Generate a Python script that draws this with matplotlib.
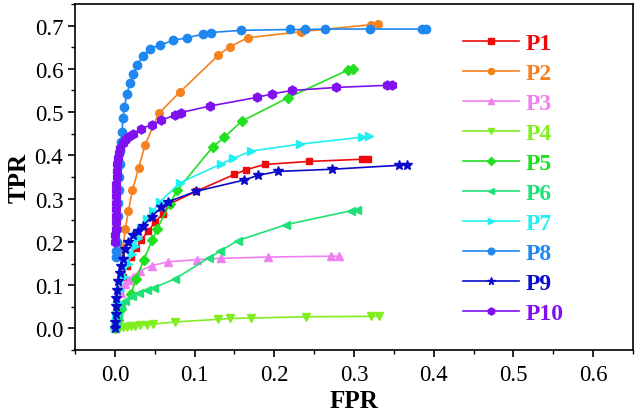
import matplotlib
matplotlib.use("Agg")
import matplotlib.pyplot as plt
from matplotlib.ticker import MultipleLocator

plt.rcParams['font.family'] = ['Liberation Serif', 'DejaVu Serif']

labels = ["P1", "P2", "P3", "P4", "P5", "P6", "P7", "P8", "P9", "P10"]
colors = ["#EE0A0A", "#F5821F", "#F080F0", "#80EE20", "#20E020",
          "#20E078", "#20F0F0", "#1E88F0", "#0A0ACC", "#8010F0"]
markers = ["s", "o", "^", "v", "D", "<", ">", "o", "*", "h"]

p1_x = [0.000, 0.003, 0.006, 0.010, 0.015, 0.020, 0.027, 0.033, 0.042, 0.050, 0.060, 0.069, 0.102, 0.150, 0.165, 0.188, 0.243, 0.310, 0.317]
p1_y = [0.000, 0.050, 0.090, 0.120, 0.145, 0.165, 0.185, 0.205, 0.225, 0.245, 0.265, 0.288, 0.317, 0.356, 0.367, 0.379, 0.386, 0.391, 0.391]

p2_x = [0.007, 0.010, 0.013, 0.017, 0.022, 0.030, 0.038, 0.055, 0.082, 0.130, 0.144, 0.167, 0.234, 0.321, 0.330]
p2_y = [0.175, 0.186, 0.229, 0.272, 0.319, 0.372, 0.425, 0.497, 0.547, 0.632, 0.651, 0.672, 0.686, 0.702, 0.703]

p3_x = [0.000, 0.002, 0.004, 0.008, 0.0125, 0.018, 0.023, 0.031, 0.046, 0.067, 0.103, 0.133, 0.192, 0.271, 0.281]
p3_y = [0.000, 0.025, 0.052, 0.083, 0.102, 0.112, 0.120, 0.133, 0.145, 0.154, 0.159, 0.162, 0.165, 0.167, 0.167]

p4_x = [0.000, 0.005, 0.010, 0.015, 0.020, 0.025, 0.031, 0.040, 0.048, 0.076, 0.129, 0.145, 0.171, 0.240, 0.321, 0.331]
p4_y = [0.000, 0.001, 0.003, 0.004, 0.005, 0.006, 0.007, 0.008, 0.010, 0.015, 0.021, 0.023, 0.024, 0.027, 0.028, 0.028]

p5_x = [0.000, 0.004, 0.008, 0.020, 0.027, 0.036, 0.047, 0.053, 0.069, 0.078, 0.123, 0.1375, 0.159, 0.217, 0.292, 0.299]
p5_y = [0.000, 0.020, 0.044, 0.079, 0.115, 0.158, 0.205, 0.230, 0.288, 0.319, 0.420, 0.442, 0.479, 0.533, 0.597, 0.600]

p6_x = [0.000, 0.002, 0.004, 0.008, 0.0125, 0.021, 0.030, 0.040, 0.049, 0.076, 0.1175, 0.1325, 0.154, 0.215, 0.296, 0.304]
p6_y = [0.000, 0.015, 0.032, 0.052, 0.064, 0.075, 0.082, 0.089, 0.094, 0.115, 0.163, 0.179, 0.203, 0.240, 0.272, 0.273]

p7_x = [0.000, 0.002, 0.004, 0.007, 0.011, 0.016, 0.021, 0.025, 0.029, 0.033, 0.040, 0.048, 0.056, 0.082, 0.133, 0.148, 0.171, 0.232, 0.310, 0.319]
p7_y = [0.000, 0.030, 0.060, 0.090, 0.120, 0.150, 0.172, 0.191, 0.210, 0.233, 0.252, 0.272, 0.292, 0.337, 0.380, 0.393, 0.410, 0.426, 0.442, 0.444]

p8_x = [0.002, 0.002, 0.003, 0.003, 0.004, 0.004, 0.005, 0.005, 0.006, 0.007, 0.008, 0.009, 0.010, 0.012, 0.015, 0.019, 0.023, 0.028, 0.035, 0.044, 0.057, 0.073, 0.091, 0.110, 0.120, 0.158, 0.220, 0.239, 0.264, 0.320, 0.385, 0.391]
p8_y = [0.165, 0.180, 0.200, 0.230, 0.260, 0.290, 0.320, 0.350, 0.380, 0.410, 0.430, 0.454, 0.487, 0.512, 0.541, 0.568, 0.587, 0.609, 0.630, 0.647, 0.655, 0.666, 0.672, 0.680, 0.684, 0.689, 0.691, 0.691, 0.692, 0.692, 0.692, 0.692]

p9_x = [0.000, 0.000, 0.001, 0.001, 0.002, 0.003, 0.004, 0.006, 0.008, 0.010, 0.0125, 0.017, 0.023, 0.029, 0.035, 0.046, 0.058, 0.067, 0.102, 0.162, 0.180, 0.205, 0.273, 0.356, 0.366]
p9_y = [0.000, 0.014, 0.033, 0.052, 0.070, 0.090, 0.110, 0.129, 0.145, 0.160, 0.183, 0.199, 0.215, 0.226, 0.236, 0.258, 0.280, 0.293, 0.317, 0.343, 0.354, 0.363, 0.368, 0.377, 0.378]

p10_x = [0.000, 0.000, 0.001, 0.001, 0.001, 0.001, 0.002, 0.002, 0.002, 0.002, 0.003, 0.003, 0.003, 0.004, 0.005, 0.007, 0.010, 0.013, 0.017, 0.023, 0.033, 0.046, 0.058, 0.075, 0.083, 0.119, 0.178, 0.197, 0.222, 0.277, 0.342, 0.348]
p10_y = [0.200, 0.215, 0.230, 0.245, 0.260, 0.275, 0.290, 0.305, 0.320, 0.335, 0.350, 0.365, 0.380, 0.395, 0.405, 0.418, 0.428, 0.436, 0.442, 0.450, 0.462, 0.471, 0.481, 0.493, 0.499, 0.514, 0.534, 0.542, 0.550, 0.557, 0.562, 0.562]

xs = [p1_x, p2_x, p3_x, p4_x, p5_x, p6_x, p7_x, p8_x, p9_x, p10_x]
ys = [p1_y, p2_y, p3_y, p4_y, p5_y, p6_y, p7_y, p8_y, p9_y, p10_y]

fig = plt.figure(figsize=(6.38, 4.14), dpi=100)
ax = fig.add_axes([0.1176, 0.152, 0.8744, 0.836])

msizes = [5, 5.5, 5.5, 5.5, 5, 5.5, 5.5, 6, 7, 6.5]
for x, y, lab, c, m, ms in zip(xs, ys, labels, colors, markers, msizes):
    ax.plot(x, y, color=c, marker=m, markersize=ms, linewidth=1.2,
            markeredgecolor=c, markerfacecolor=c, label=lab)

ax.set_xlim(-0.05, 0.65)
ax.set_ylim(-0.05, 0.75)
ax.xaxis.set_major_locator(MultipleLocator(0.1))
ax.xaxis.set_minor_locator(MultipleLocator(0.05))
ax.yaxis.set_major_locator(MultipleLocator(0.1))
ax.yaxis.set_minor_locator(MultipleLocator(0.05))
ax.xaxis.set_major_formatter(plt.FormatStrFormatter('%.1f'))
ax.yaxis.set_major_formatter(plt.FormatStrFormatter('%.1f'))
ax.tick_params(axis='both', which='major', direction='out', length=5, width=1.2,
               labelsize=16.5, top=False, right=False)
ax.tick_params(axis='x', which='major', pad=5)
ax.tick_params(axis='both', which='minor', direction='out', length=3, width=1.0,
               top=False, right=False)
for s in ax.spines.values():
    s.set_linewidth(1.2)

ax.set_xlabel("FPR", fontsize=18, fontweight='bold', labelpad=3)
ax.set_ylabel("TPR", fontsize=18, fontweight='bold', labelpad=3)

leg = ax.legend(loc='upper left', bbox_to_anchor=(0.678, 0.945), frameon=False,
                fontsize=17, handlelength=2.4, handletextpad=0.25,
                labelspacing=0.36, numpoints=1, borderaxespad=0,
                markerscale=0.8)
for text, c in zip(leg.get_texts(), colors):
    text.set_color(c)
    text.set_fontweight('bold')

fig.savefig("out.png", dpi=100)
